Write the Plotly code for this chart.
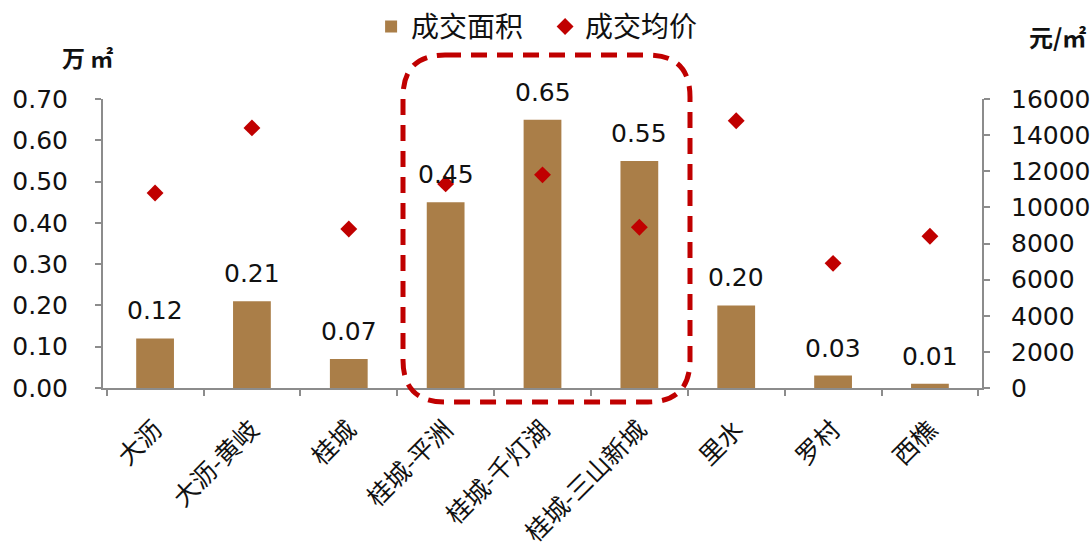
import plotly.graph_objects as go

# 各板块成交面积（万㎡）与成交均价（元/㎡）
categories = ["大沥", "大沥-黄岐", "桂城", "桂城-平洲", "桂城-千灯湖",
              "桂城-三山新城", "里水", "罗村", "西樵"]
area = [0.12, 0.21, 0.07, 0.45, 0.65, 0.55, 0.20, 0.03, 0.01]
price = [10800, 14400, 8800, 11300, 11800, 8900, 14800, 6900, 8400]

area_ticks = [0, 0.1, 0.2, 0.3, 0.4, 0.5, 0.6, 0.7]
price_ticks = list(range(0, 16001, 2000))

BAR_COLOR = "#AA7E48"
RED = "#C00000"
AXIS_COLOR = "#8C8C8C"
NUM_FONT = "DejaVu Sans"
CJK_FONT = "Noto Sans CJK SC"

fig = go.Figure()
fig.add_trace(go.Bar(
    x=categories, y=area, name="成交面积",
    marker=dict(color=BAR_COLOR, line=dict(width=0)),
    width=0.39, yaxis="y",
))
fig.add_trace(go.Scatter(
    x=categories, y=price, name="成交均价", mode="markers",
    marker=dict(symbol="diamond", size=13, color=RED),
    yaxis="y2",
))

# 柱顶数值标签
for c, v in zip(categories, area):
    fig.add_annotation(
        x=c, y=v, xref="x", yref="y", text=f"{v:.2f}",
        showarrow=False, yanchor="bottom", yshift=11,
        font=dict(family=NUM_FONT, size=25, color="#111111"),
    )

# 单位标注
fig.add_annotation(x=-0.018, y=1.145, xref="paper", yref="paper",
                   text="<b>万 ㎡</b>", showarrow=False,
                   xanchor="center", yanchor="middle",
                   font=dict(family=CJK_FONT, size=23, color="#111111"))
fig.add_annotation(x=1.086, y=1.215, xref="paper", yref="paper",
                   text="<b>元/㎡</b>", showarrow=False,
                   xanchor="center", yanchor="middle",
                   font=dict(family=CJK_FONT, size=24, color="#111111"))

# 桂城三片区的圆角虚线框
x0, x1 = 0.3413, 0.6678
y0, y1 = -0.0484, 1.152
rx, ry = 42 / 879, 42 / 289
path = (
    f"M {x0 + rx},{y1} L {x1 - rx},{y1} Q {x1},{y1} {x1},{y1 - ry} "
    f"L {x1},{y0 + ry} Q {x1},{y0} {x1 - rx},{y0} "
    f"L {x0 + rx},{y0} Q {x0},{y0} {x0},{y0 + ry} "
    f"L {x0},{y1 - ry} Q {x0},{y1} {x0 + rx},{y1} Z"
)
fig.add_shape(type="path", path=path, xref="paper", yref="paper",
              line=dict(color=RED, width=5, dash="16px,10px"),
              fillcolor="rgba(0,0,0,0)", layer="above")

fig.update_layout(
    width=1092, height=552,
    margin=dict(l=103, r=110, t=99, b=164, autoexpand=False),
    paper_bgcolor="white", plot_bgcolor="white",
    showlegend=True,
    legend=dict(orientation="h", x=0.305, y=1.25, xanchor="left",
                yanchor="middle", font=dict(family=CJK_FONT, size=28,
                                             color="#111111"),
                itemwidth=30, entrywidth=129, entrywidthmode="pixels",
                bgcolor="rgba(0,0,0,0)"),
    bargap=0.6,
    xaxis=dict(
        type="category", showline=True, linecolor=AXIS_COLOR, linewidth=2,
        ticks="outside", tickson="boundaries", ticklen=6,
        tickcolor=AXIS_COLOR, tickwidth=2, tickangle=-45,
        ticklabelstandoff=15,
        tickfont=dict(family=CJK_FONT, size=25, color="#111111"),
        showgrid=False, zeroline=False,
    ),
    yaxis=dict(
        range=[0, 0.7], tickvals=area_ticks, tickformat=".2f",
        showline=True, linecolor=AXIS_COLOR, linewidth=2,
        ticks="outside", ticklen=6, tickcolor=AXIS_COLOR, tickwidth=2,
        ticklabelstandoff=22,
        tickfont=dict(family=NUM_FONT, size=25, color="#111111"),
        showgrid=False, zeroline=False,
    ),
    yaxis2=dict(
        range=[0, 16000], tickvals=price_ticks, tickformat="d",
        overlaying="y", side="right",
        showline=True, linecolor=AXIS_COLOR, linewidth=2,
        ticks="outside", ticklen=6, tickcolor=AXIS_COLOR, tickwidth=2,
        ticklabelstandoff=16,
        tickfont=dict(family=NUM_FONT, size=25, color="#111111"),
        showgrid=False, zeroline=False,
    ),
)

fig.write_html("out.html")
